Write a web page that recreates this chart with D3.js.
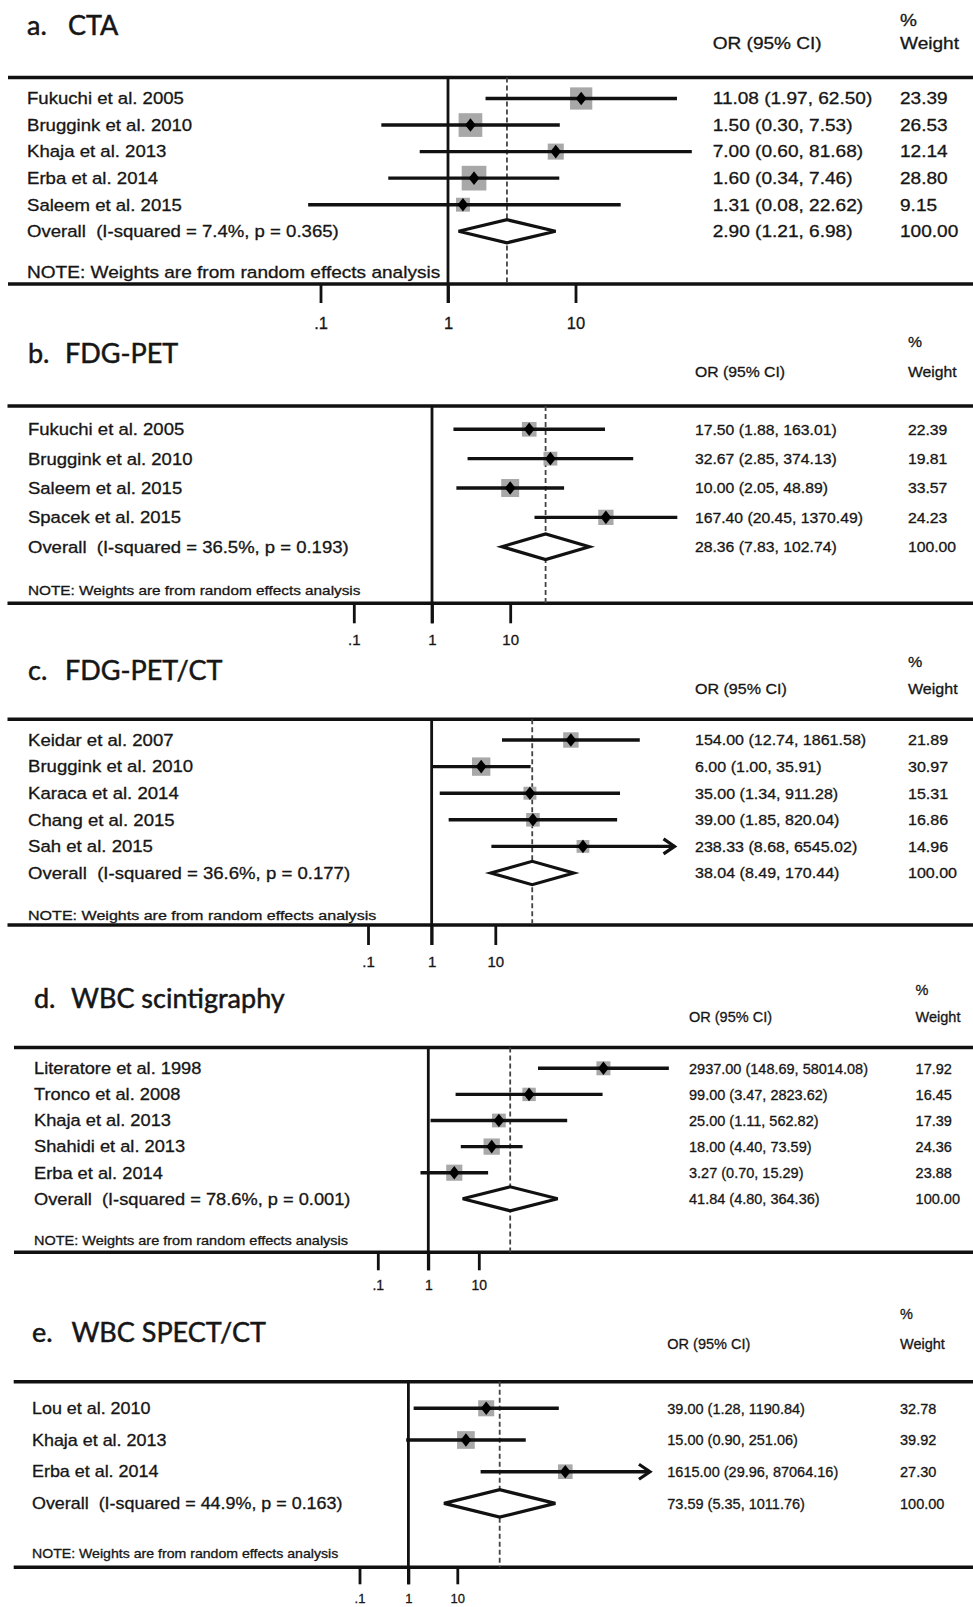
<!DOCTYPE html>
<html>
<head>
<meta charset="utf-8">
<script src="https://cdn.jsdelivr.net/npm/d3@7"></script>
<style>
  body { margin: 0; background: #fff; }
  text { font-family: "Liberation Sans", Arial, sans-serif; fill: #161616; stroke: #161616; stroke-width: 0.3px; }
  .title { font-family: Lato, "Open Sans", sans-serif; stroke-width: 0.5px; }
</style>
</head>
<body>
<div id="chart"></div>
<script>
// ---- data ----
var panelTitles = ["a. CTA", "b. FDG-PET", "c. FDG-PET/CT", "d. WBC scintigraphy", "e. WBC SPECT/CT"];

// study, OR, lower, upper, % weight
var ctaRows = [
  ["Fukuchi et al. 2005", 11.08, 1.97, 62.50, 23.39],
  ["Bruggink et al. 2010", 1.50, 0.30, 7.53, 26.53],
  ["Khaja et al. 2013", 7.00, 0.60, 81.68, 12.14],
  ["Erba et al. 2014", 1.60, 0.34, 7.46, 28.80],
  ["Saleem et al. 2015", 1.31, 0.08, 22.62, 9.15]
];
var petRows = [
  ["Fukuchi et al. 2005", 17.50, 1.88, 163.01, 22.39],
  ["Bruggink et al. 2010", 32.67, 2.85, 374.13, 19.81],
  ["Saleem et al. 2015", 10.00, 2.05, 48.89, 33.57],
  ["Spacek et al. 2015", 167.40, 20.45, 1370.49, 24.23]
];
var petCtRows = [
  ["Keidar et al. 2007", 154.00, 12.74, 1861.58, 21.89],
  ["Bruggink et al. 2010", 6.00, 1.00, 35.91, 30.97],
  ["Karaca et al. 2014", 35.00, 1.34, 911.28, 15.31],
  ["Chang et al. 2015", 39.00, 1.85, 820.04, 16.86],
  ["Sah et al. 2015", 238.33, 8.68, 6545.02, 14.96]
];
var wbcRows = [
  ["Literatore et al. 1998", 2937.00, 148.69, 58014.08, 17.92],
  ["Tronco et al. 2008", 99.00, 3.47, 2823.62, 16.45],
  ["Khaja et al. 2013", 25.00, 1.11, 562.82, 17.39],
  ["Shahidi et al. 2013", 18.00, 4.40, 73.59, 24.36],
  ["Erba et al. 2014", 3.27, 0.70, 15.29, 23.88]
];
var spectRows = [
  ["Lou et al. 2010", 39.00, 1.28, 1190.84, 32.78],
  ["Khaja et al. 2013", 15.00, 0.90, 251.06, 39.92],
  ["Erba et al. 2014", 1615.00, 29.96, 87064.16, 27.30]
];

// overall: OR, lower, upper, I-squared %, p
var ctaOverall = [2.90, 1.21, 6.98, 7.4, 0.365];
var petOverall = [28.36, 7.83, 102.74, 36.5, 0.193];
var petCtOverall = [38.04, 8.49, 170.44, 36.6, 0.177];
var wbcOverall = [41.84, 4.80, 364.36, 78.6, 0.001];
var spectOverall = [73.59, 5.35, 1011.76, 44.9, 0.163];

var axisTicks = [0.1, 1, 10];
var axisTickLabels = [".1", "1", "10"];

// ---- layout per panel ----
var layout = [
  { rows: ctaRows, overall: ctaOverall, xr: [320.5, 575.5], xMax: 1e6,
    titleY: 35, titleX: 27, titleX2: 68, titleSize: 27,
    pctY: 20, headY: 43.5, orX: 712.7, wX: 900, lineX0: 8,
    top: 77.5, row0: 98.5, step: 26.55, noteY: 271.7, bottom: 284, tickLen: 19, tickLabY: 323.3,
    k: 4.6, ovH: 11.5,
    labFs: 16.3, labSx: 1.14, numFs: 16.3, numSx: 1.17, noteFs: 16.3, noteSx: 1.17, tickFs: 16.5 },
  { rows: petRows, overall: petOverall, xr: [353.8, 510.2], xMax: 1e6,
    titleY: 363.3, titleX: 28, titleX2: 65, titleSize: 27,
    pctY: 341.7, headY: 371.7, orX: 695, wX: 908, lineX0: 7.5,
    top: 406, row0: 429.3, step: 29.35, noteY: 590, bottom: 603.3, tickLen: 20, tickLabY: 640,
    k: 3.1, ovH: 12.8,
    labFs: 16.3, labSx: 1.135, numFs: 15, numSx: 1.05, noteFs: 13, noteSx: 1.18, tickFs: 15 },
  { rows: petCtRows, overall: petCtOverall, xr: [368, 495.3], xMax: 5000,
    titleY: 680, titleX: 28, titleX2: 65, titleSize: 27,
    pctY: 661.7, headY: 688.3, orX: 695, wX: 908, lineX0: 7.5,
    top: 719.3, row0: 740, step: 26.6, noteY: 915, bottom: 925, tickLen: 20, tickLabY: 961.7,
    k: 3.3, ovH: 11.7,
    labFs: 16.3, labSx: 1.14, numFs: 15, numSx: 1.07, noteFs: 13.5, noteSx: 1.19, tickFs: 15 },
  { rows: wbcRows, overall: wbcOverall, xr: [377.8, 478.8], xMax: 1e6,
    titleY: 1008.3, titleX: 34, titleX2: 71, titleSize: 27,
    pctY: 990, headY: 1017, orX: 689, wX: 915.6, lineX0: 14,
    top: 1047.5, row0: 1068.3, step: 26.1, noteY: 1240, bottom: 1252.3, tickLen: 18, tickLabY: 1285,
    k: 3.3, ovH: 12,
    labFs: 16.3, labSx: 1.12, numFs: 14.5, numSx: 1.0, noteFs: 12.5, noteSx: 1.16, tickFs: 14 },
  { rows: spectRows, overall: spectOverall, xr: [359.5, 457.3], xMax: 50000,
    titleY: 1341.7, titleX: 32, titleX2: 71.4, titleSize: 27,
    pctY: 1313.3, headY: 1343.3, orX: 667.3, wX: 900, lineX0: 13.7,
    top: 1381.7, row0: 1408.3, step: 31.7, noteY: 1553.3, bottom: 1567.3, tickLen: 17, tickLabY: 1598,
    k: 2.8, ovH: 13.7,
    labFs: 16, labSx: 1.12, numFs: 14.5, numSx: 1.0, noteFs: 12.5, noteSx: 1.13, tickFs: 13 }
];

var width = 973, height = 1607;
var f2 = d3.format(".2f");

var svg = d3.select("#chart").append("svg")
  .attr("width", width)
  .attr("height", height);

// text stretched horizontally like the original scan
function addText(g, x, y, str, fs, sx) {
  return g.append("text")
    .attr("transform", "translate(" + x + "," + y + ") scale(" + sx + ",1)")
    .attr("dy", "0.36em")
    .style("font-size", fs + "px")
    .style("white-space", "pre")
    .text(str);
}

layout.forEach(function (p, pi) {
  var g = svg.append("g");
  var x = d3.scaleLog().domain([0.1, 10]).range(p.xr);
  var yRow = function (i) { return p.row0 + i * p.step; };

  // title
  var tt = panelTitles[pi];
  var cut = tt.indexOf(" ");
  var title = g.append("text").attr("class", "title")
    .attr("y", p.titleY)
    .style("font-size", p.titleSize + "px");
  title.append("tspan").attr("x", p.titleX).text(tt.slice(0, cut));
  title.append("tspan").attr("x", p.titleX2).text(tt.slice(cut + 1));

  // column headers
  addText(g, p.wX, p.pctY, "%", p.numFs, p.numSx);
  addText(g, p.orX, p.headY, "OR (95% CI)", p.numFs, p.numSx);
  addText(g, p.wX, p.headY, "Weight", p.numFs, p.numSx);

  // frame lines
  [p.top, p.bottom].forEach(function (yy) {
    g.append("line")
      .attr("x1", p.lineX0).attr("x2", width)
      .attr("y1", yy).attr("y2", yy)
      .attr("stroke", "#111").attr("stroke-width", 3.4);
  });

  // line of no effect
  g.append("line")
    .attr("x1", x(1)).attr("x2", x(1))
    .attr("y1", p.top).attr("y2", p.bottom + p.tickLen)
    .attr("stroke", "#111").attr("stroke-width", 2.8);

  // overall estimate (dashed)
  g.append("line")
    .attr("x1", x(p.overall[0])).attr("x2", x(p.overall[0]))
    .attr("y1", p.top).attr("y2", p.bottom)
    .attr("stroke", "#444").attr("stroke-width", 1.8)
    .attr("stroke-dasharray", "5,3");

  // studies
  var rowG = g.selectAll("g.study")
    .data(p.rows)
    .enter().append("g")
    .attr("class", "study");

  rowG.append("rect")
    .attr("x", function (d) { return x(d[1]) - p.k * Math.sqrt(d[4]) / 2; })
    .attr("y", function (d, i) { return yRow(i) - p.k * Math.sqrt(d[4]) / 2; })
    .attr("width", function (d) { return p.k * Math.sqrt(d[4]); })
    .attr("height", function (d) { return p.k * Math.sqrt(d[4]); })
    .attr("fill", "#a8a8a8");

  rowG.append("line")
    .attr("x1", function (d) { return x(d[2]); })
    .attr("x2", function (d) { return x(d[3]); })
    .attr("y1", function (d, i) { return yRow(i); })
    .attr("y2", function (d, i) { return yRow(i); })
    .attr("stroke", "#111").attr("stroke-width", 3.4);

  rowG.filter(function (d) { return d[3] > p.xMax; })
    .append("path")
    .attr("d", function (d) {
      var i = p.rows.indexOf(d), xe = x(d[3]), yy = yRow(i);
      return "M" + (xe - 11) + "," + (yy - 7.5) + "L" + xe + "," + yy + "L" + (xe - 11) + "," + (yy + 7.5);
    })
    .attr("fill", "none").attr("stroke", "#111").attr("stroke-width", 3.2);

  rowG.append("path")
    .attr("d", function (d, i) {
      var cx = x(d[1]), cy = yRow(i);
      return "M" + (cx - 5.3) + "," + cy + "L" + cx + "," + (cy - 6.8) +
        "L" + (cx + 5.3) + "," + cy + "L" + cx + "," + (cy + 6.8) + "Z";
    })
    .attr("fill", "#000");

  rowG.each(function (d, i) {
    var s = d3.select(this);
    addText(s, p.titleX, yRow(i), d[0], p.labFs, p.labSx);
    addText(s, p.orX, yRow(i), f2(d[1]) + " (" + f2(d[2]) + ", " + f2(d[3]) + ")", p.numFs, p.numSx);
    addText(s, p.wX, yRow(i), f2(d[4]), p.numFs, p.numSx);
  });

  // overall diamond
  var o = p.overall, oy = yRow(p.rows.length);
  g.append("path")
    .attr("d", "M" + x(o[1]) + "," + oy + "L" + x(o[0]) + "," + (oy - p.ovH) +
      "L" + x(o[2]) + "," + oy + "L" + x(o[0]) + "," + (oy + p.ovH) + "Z")
    .attr("fill", "#fff").attr("stroke", "#111").attr("stroke-width", 3.2);
  addText(g, p.titleX, oy, "Overall  (I-squared = " + o[3].toFixed(1) + "%, p = " + o[4].toFixed(3) + ")", p.labFs, p.labSx);
  addText(g, p.orX, oy, f2(o[0]) + " (" + f2(o[1]) + ", " + f2(o[2]) + ")", p.numFs, p.numSx);
  addText(g, p.wX, oy, f2(100), p.numFs, p.numSx);

  addText(g, p.titleX, p.noteY, "NOTE: Weights are from random effects analysis", p.noteFs, p.noteSx);

  // log axis
  var ax = g.append("g")
    .attr("transform", "translate(0," + p.bottom + ")")
    .call(d3.axisBottom(x)
      .tickValues(axisTicks)
      .tickFormat(function (d, i) { return axisTickLabels[i]; })
      .tickSize(p.tickLen)
      .tickPadding(p.tickLabY - p.bottom - p.tickLen - 0.35 * p.tickFs));
  ax.select(".domain").remove();
  ax.selectAll(".tick line").attr("stroke", "#111").attr("stroke-width", 2.8);
  ax.selectAll(".tick text")
    .style("font-family", "'Liberation Sans', Arial, sans-serif")
    .style("font-size", p.tickFs + "px")
    .attr("fill", "#161616");
});
</script>
</body>
</html>
